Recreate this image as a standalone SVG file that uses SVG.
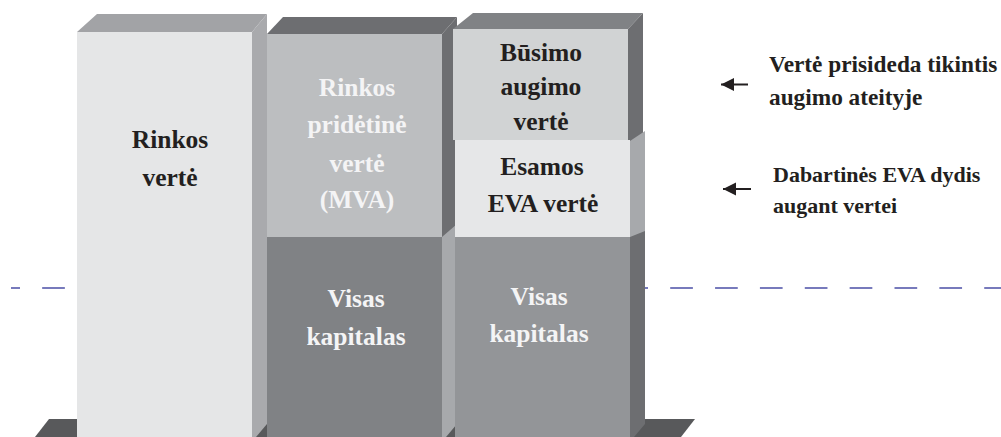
<svg xmlns="http://www.w3.org/2000/svg" width="1001" height="437" viewBox="0 0 1001 437">
<style>
.dk { fill: #231f20; }
.lt { fill: #f4f4f5; }
.shade { fill: #58595b; }
.conn { stroke: #231f20; stroke-width: 2; fill: none; }
</style>
<defs>
<marker id="ah" markerUnits="userSpaceOnUse" markerWidth="14" markerHeight="14" viewBox="0 0 14 14" refX="13" refY="7" orient="auto">
<path d="M0,0.6 L13,7 L0,13.4 z" fill="#231f20"/>
</marker>
</defs>
<rect width="1001" height="437" fill="#ffffff"/>
<g id="baseline">
<line x1="11" y1="288" x2="1001" y2="288" stroke="#4b4fa6" stroke-width="1.3" stroke-dasharray="22.7 22.16" stroke-dashoffset="13.7"/>
</g>
<g id="base">
<polygon class="shade" points="35,437 49,419 695,419 681,437"/>
</g>
<g id="bar1" font-family="Liberation Serif, serif" font-weight="bold" font-size="25.5" text-anchor="middle">
<polygon points="77,32 97,14 267,14 252,32" fill="#a2a3a6"/>
<polygon points="252,32 267,14 267,437 252,437" fill="#a9aaad"/>
<polygon class="shade" points="256,437 267,424 267,437"/>
<rect x="77" y="32" width="175" height="405" fill="#e5e6e7"/>
<text class="dk" x="170" y="148">Rinkos</text>
<text class="dk" x="170" y="186">vertė</text>
</g>
<g id="bar2" font-family="Liberation Serif, serif" font-weight="bold" font-size="25.5" text-anchor="middle">
<polygon points="267,34 283,17 457,17 442,34" fill="#6d6e71"/>
<polygon points="442,34 457,17 457,238 442,238" fill="#6d6e71"/>
<rect x="267" y="34" width="175" height="204" fill="#bcbec0"/>
<polygon points="442,237 457,224 457,437 442,437" fill="#a7a9ac"/>
<polygon class="shade" points="446,437 457,424 457,437"/>
<rect x="267" y="237" width="175" height="200" fill="#808285"/>
<text class="lt" x="357" y="96">Rinkos</text>
<text class="lt" x="357" y="133">pridėtinė</text>
<text class="lt" x="357" y="172">vertė</text>
<text class="lt" x="357" y="208">(MVA)</text>
<text class="lt" x="356" y="307">Visas</text>
<text class="lt" x="356" y="345">kapitalas</text>
</g>
<g id="bar3" font-family="Liberation Serif, serif" font-weight="bold" font-size="25.5" text-anchor="middle">
<polygon points="453,29 473,13 643,13 628,29" fill="#808285"/>
<polygon points="628,29 643,13 643,141 628,141" fill="#6d6e71"/>
<rect x="453" y="29" width="175" height="111" fill="#d1d3d4"/>
<polygon points="630,141 645,131 645,238 630,238" fill="#a7a9ac"/>
<rect x="455" y="140" width="175" height="98" fill="#e6e7e8"/>
<polygon points="630,237 645,231 645,437 630,437" fill="#6d6e71"/>
<polygon class="shade" points="634,437 645,424 645,437"/>
<rect x="455" y="237" width="175" height="200" fill="#939598"/>
<text class="dk" x="541" y="61">Būsimo</text>
<text class="dk" x="541" y="95">augimo</text>
<text class="dk" x="541" y="130">vertė</text>
<text class="dk" x="542" y="175">Esamos</text>
<text class="dk" x="543" y="212">EVA vertė</text>
<text class="lt" x="539" y="305">Visas</text>
<text class="lt" x="539" y="342">kapitalas</text>
</g>
<g id="note1" font-family="Liberation Serif, serif" font-weight="bold" font-size="23.3" fill="#231f20">
<text x="769" y="72">Vertė prisideda tikintis</text>
<text x="769" y="105">augimo ateityje</text>
</g>
<g id="note2" font-family="Liberation Serif, serif" font-weight="bold" font-size="22" fill="#231f20">
<text x="773" y="182">Dabartinės EVA dydis</text>
<text x="773" y="213">augant vertei</text>
</g>
<g id="connectors">
<line class="conn" x1="748" y1="84.5" x2="721" y2="84.5" marker-end="url(#ah)"/>
<line class="conn" x1="751" y1="189" x2="723" y2="189" marker-end="url(#ah)"/>
</g>
</svg>
